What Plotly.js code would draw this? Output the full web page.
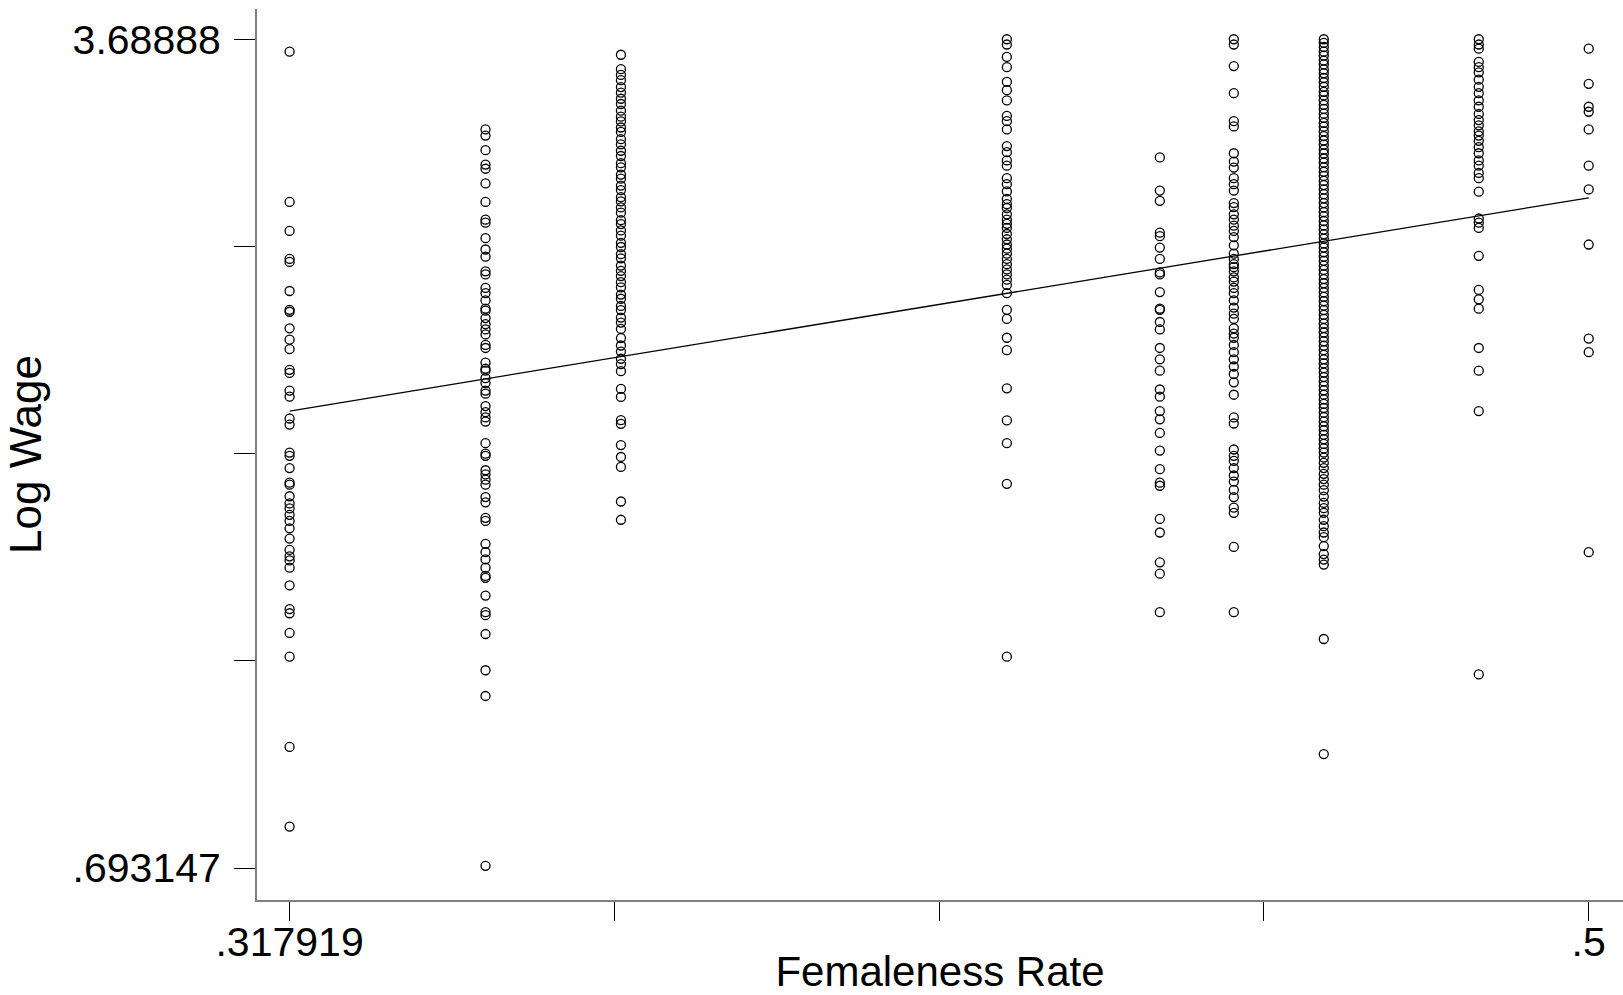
<!DOCTYPE html>
<html>
<head>
<meta charset="utf-8">
<script src="https://cdn.plot.ly/plotly-3.0.1.min.js"></script>
<style>
html,body{margin:0;padding:0;background:#fff;}
#chart{width:1623px;height:995px;}
</style>
</head>
<body>
<div id="chart"></div>
<script>
// Femaleness rate of each occupation group (x of each column of points)
const femRates = [0.317919, 0.34538, 0.36436, 0.41845, 0.43989, 0.45026, 0.46287, 0.48459, 0.5];

// Log wage observations, one array per column
const wageC1 = [3.644, 3.101, 2.996, 2.895, 2.884, 2.779, 2.711, 2.704, 2.644, 2.603, 2.569, 2.494, 2.483, 2.419, 2.397, 2.318, 2.296, 2.195, 2.183, 2.139, 2.086, 2.079, 2.037, 2.011, 1.993, 1.970, 1.948, 1.921, 1.884, 1.843, 1.820, 1.805, 1.779, 1.715, 1.629, 1.614, 1.543, 1.457, 1.131, 0.843];
const wageC2 = [3.363, 3.341, 3.288, 3.236, 3.221, 3.168, 3.101, 3.037, 3.026, 2.970, 2.929, 2.903, 2.850, 2.839, 2.790, 2.771, 2.745, 2.715, 2.708, 2.681, 2.659, 2.640, 2.622, 2.584, 2.573, 2.520, 2.498, 2.491, 2.464, 2.446, 2.419, 2.408, 2.363, 2.341, 2.322, 2.307, 2.229, 2.191, 2.183, 2.131, 2.116, 2.097, 2.079, 2.034, 2.015, 1.959, 1.948, 1.865, 1.835, 1.809, 1.779, 1.749, 1.742, 1.678, 1.618, 1.607, 1.539, 1.408, 1.315, 0.701];
const wageC3 = [3.633, 3.581, 3.560, 3.541, 3.516, 3.496, 3.474, 3.455, 3.431, 3.409, 3.392, 3.370, 3.354, 3.328, 3.309, 3.286, 3.267, 3.241, 3.226, 3.200, 3.185, 3.160, 3.144, 3.118, 3.103, 3.081, 3.062, 3.035, 3.021, 2.998, 2.979, 2.953, 2.938, 2.912, 2.897, 2.871, 2.852, 2.833, 2.811, 2.792, 2.766, 2.751, 2.725, 2.710, 2.683, 2.665, 2.642, 2.609, 2.582, 2.560, 2.534, 2.515, 2.489, 2.425, 2.396, 2.312, 2.299, 2.222, 2.179, 2.143, 2.018, 1.952];
const wageC4 = [3.689, 3.670, 3.625, 3.588, 3.535, 3.505, 3.468, 3.412, 3.393, 3.363, 3.303, 3.281, 3.251, 3.232, 3.187, 3.165, 3.139, 3.112, 3.093, 3.079, 3.056, 3.037, 3.022, 3.007, 2.985, 2.966, 2.947, 2.932, 2.914, 2.895, 2.876, 2.857, 2.839, 2.820, 2.801, 2.771, 2.711, 2.678, 2.610, 2.565, 2.427, 2.311, 2.229, 2.082, 1.457];
const wageC5 = [3.262, 3.142, 3.105, 2.990, 2.977, 2.936, 2.895, 2.846, 2.839, 2.775, 2.715, 2.711, 2.667, 2.640, 2.573, 2.532, 2.491, 2.423, 2.397, 2.345, 2.315, 2.266, 2.202, 2.135, 2.086, 2.075, 1.955, 1.906, 1.798, 1.757, 1.618];
const wageC6 = [3.689, 3.670, 3.592, 3.494, 3.393, 3.374, 3.277, 3.247, 3.225, 3.187, 3.165, 3.142, 3.097, 3.082, 3.056, 3.037, 3.015, 2.996, 2.974, 2.944, 2.914, 2.895, 2.876, 2.865, 2.850, 2.828, 2.813, 2.790, 2.771, 2.745, 2.719, 2.697, 2.678, 2.644, 2.625, 2.610, 2.584, 2.558, 2.532, 2.506, 2.479, 2.449, 2.404, 2.322, 2.300, 2.206, 2.183, 2.165, 2.139, 2.112, 2.090, 2.060, 2.034, 1.996, 1.977, 1.854, 1.618];
const wageC7 = [3.689, 3.676, 3.661, 3.644, 3.630, 3.612, 3.598, 3.580, 3.566, 3.549, 3.533, 3.517, 3.499, 3.486, 3.468, 3.452, 3.437, 3.420, 3.405, 3.387, 3.373, 3.356, 3.339, 3.323, 3.308, 3.290, 3.276, 3.258, 3.243, 3.226, 3.210, 3.195, 3.177, 3.162, 3.146, 3.129, 3.114, 3.097, 3.081, 3.064, 3.049, 3.032, 3.016, 3.001, 2.984, 2.968, 2.951, 2.936, 2.919, 2.903, 2.888, 2.871, 2.855, 2.839, 2.822, 2.807, 2.790, 2.774, 2.758, 2.742, 2.726, 2.710, 2.693, 2.678, 2.661, 2.645, 2.629, 2.612, 2.597, 2.581, 2.565, 2.548, 2.532, 2.517, 2.500, 2.484, 2.468, 2.452, 2.436, 2.420, 2.404, 2.387, 2.371, 2.356, 2.339, 2.323, 2.307, 2.290, 2.275, 2.259, 2.243, 2.226, 2.210, 2.195, 2.177, 2.158, 2.139, 2.118, 2.099, 2.079, 2.059, 2.036, 2.013, 1.994, 1.977, 1.952, 1.929, 1.906, 1.889, 1.857, 1.828, 1.808, 1.790, 1.521, 1.105];
const wageC8 = [3.689, 3.670, 3.655, 3.607, 3.588, 3.569, 3.543, 3.517, 3.494, 3.468, 3.445, 3.419, 3.397, 3.378, 3.356, 3.341, 3.322, 3.299, 3.277, 3.251, 3.232, 3.206, 3.187, 3.138, 3.041, 3.026, 3.007, 2.906, 2.783, 2.749, 2.715, 2.573, 2.491, 2.345, 1.393];
const wageC9 = [3.655, 3.528, 3.445, 3.427, 3.363, 3.232, 3.146, 2.947, 2.607, 2.558, 1.835];

// Fitted values (linear fit) at the ends of the x range
const fitRates = [0.317919, 0.5];
const fitWages = [2.345, 3.116];

// Axis ticks (only the extremes are labelled)
const xTickVals = [0.317919, 0.36344, 0.40896, 0.45448, 0.5];
const xTickText = ['.317919', '', '', '', '.5'];
const yTickVals = [0.693147, 1.442080, 2.191014, 2.939947, 3.68888];
const yTickText = ['.693147', '', '', '', '3.68888'];

const wageColumns = [wageC1, wageC2, wageC3, wageC4, wageC5, wageC6, wageC7, wageC8, wageC9];
const scatterX = [];
const scatterY = [];
wageColumns.forEach((col, i) => {
  col.forEach(w => { scatterX.push(femRates[i]); scatterY.push(w); });
});

const font = 'Liberation Sans, Arial, Helvetica, sans-serif';

const traces = [
  {
    type: 'scatter', mode: 'markers', x: scatterX, y: scatterY,
    marker: {symbol: 'circle-open', size: 9, color: '#000', line: {width: 1.3, color: '#000'}},
    hoverinfo: 'x+y', showlegend: false
  },
  {
    type: 'scatter', mode: 'lines', x: fitRates, y: fitWages,
    line: {color: '#000', width: 1.3}, showlegend: false
  }
];

const layout = {
  width: 1623, height: 995,
  margin: {l: 257, r: 0, t: 9, b: 95},
  paper_bgcolor: '#fff', plot_bgcolor: '#fff',
  showlegend: false,
  xaxis: {
    range: [0.313351, 0.504806],
    tickmode: 'array', tickvals: xTickVals, ticktext: xTickText,
    ticks: 'outside', ticklen: 19, tickwidth: 1, tickcolor: '#000',
    showline: true, linecolor: '#7f7f7f', linewidth: 2,
    showgrid: false, zeroline: false,
    tickfont: {family: font, size: 41, color: '#000'},
    ticklabelstandoff: -14,
    title: {text: 'Femaleness Rate', font: {family: font, size: 42, color: '#000'}, standoff: 31},
    automargin: false
  },
  yaxis: {
    range: [0.5775, 3.7984],
    tickmode: 'array', tickvals: yTickVals, ticktext: yTickText,
    ticks: 'outside', ticklen: 21, tickwidth: 1, tickcolor: '#000',
    showline: true, linecolor: '#7f7f7f', linewidth: 2,
    showgrid: false, zeroline: false,
    tickfont: {family: font, size: 41, color: '#000'},
    ticklabelstandoff: 5,
    title: {text: 'Log Wage', font: {family: font, size: 44, color: '#000'}, standoff: 17},
    automargin: false
  }
};

Plotly.newPlot('chart', traces, layout, {displayModeBar: false, staticPlot: true});
</script>
</body>
</html>
